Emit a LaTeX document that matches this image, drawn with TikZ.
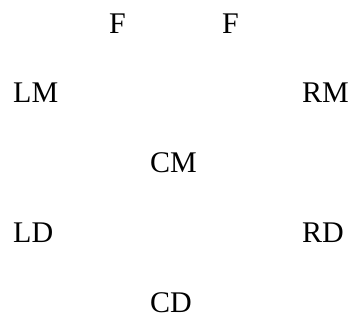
\documentclass[tikz,border=0pt]{standalone}
\usepackage{fontspec}
\setmainfont{Liberation Serif}
\usepackage{tikz}

\tikzset{lbl/.style={anchor=base west, inner sep=0pt, font=\fontsize{30}{36}\selectfont}}

\begin{document}
\begin{tikzpicture}[x=1pt, y=1pt]
    \useasboundingbox (0,0) rectangle (357,324);
    \foreach \nm/\txt/\X/\Y in {FL/F/109/290, FR/F/222/290,
                                LM/LM/13/221, RM/RM/302/221,
                                CM/CM/150/151,
                                LD/LD/13/81, RD/RD/302/81,
                                CD/CD/150/11} {
      \node[lbl] (\nm) at (\X,\Y) {\txt};
    }
\end{tikzpicture}
\end{document}
